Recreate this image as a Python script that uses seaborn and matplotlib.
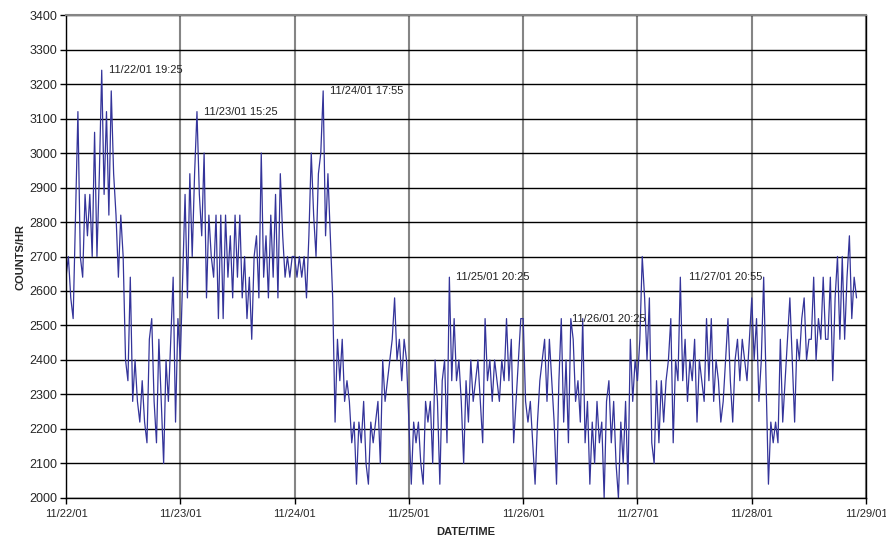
import pandas as pd
import seaborn as sns
import matplotlib.pyplot as plt
import matplotlib.dates as mdates

# counts/hr, one reading every 30 min starting 11/22/01 00:00
day1 = [2640, 2700, 2580, 2520, 2820, 3120, 2700, 2640, 2880, 2760, 2880, 2700,
        3060, 2700, 2940, 3240, 2880, 3120, 2820, 3180, 2940, 2820, 2640, 2820,
        2700, 2400, 2340, 2640, 2280, 2400, 2280, 2220, 2340, 2220, 2160, 2460,
        2520, 2280, 2160, 2460, 2280, 2100, 2400, 2280, 2460, 2640, 2220, 2520]
day2 = [2400, 2640, 2880, 2580, 2940, 2700, 2940, 3120, 2880, 2760, 3000, 2580,
        2820, 2700, 2640, 2820, 2520, 2820, 2520, 2820, 2640, 2760, 2580, 2820,
        2640, 2820, 2580, 2700, 2520, 2640, 2460, 2700, 2760, 2580, 3000, 2640,
        2760, 2580, 2820, 2640, 2880, 2580, 2940, 2760, 2640, 2700, 2640, 2700]
day3 = [2700, 2640, 2700, 2640, 2700, 2580, 2760, 3000, 2820, 2700, 2940, 3000,
        3180, 2760, 2940, 2760, 2580, 2220, 2460, 2340, 2460, 2280, 2340, 2280,
        2160, 2220, 2040, 2220, 2160, 2280, 2100, 2040, 2220, 2160, 2220, 2280,
        2100, 2400, 2280, 2340, 2400, 2460, 2580, 2400, 2460, 2340, 2460, 2400]
day4 = [2220, 2040, 2220, 2160, 2220, 2100, 2040, 2280, 2220, 2280, 2100, 2400,
        2280, 2040, 2340, 2400, 2160, 2640, 2340, 2520, 2340, 2400, 2280, 2100,
        2340, 2220, 2400, 2280, 2340, 2400, 2280, 2160, 2520, 2340, 2400, 2280,
        2400, 2340, 2280, 2400, 2340, 2520, 2340, 2460, 2160, 2280, 2400, 2520]
day5 = [2520, 2280, 2220, 2280, 2160, 2040, 2220, 2340, 2400, 2460, 2280, 2460,
        2340, 2220, 2040, 2340, 2520, 2220, 2400, 2160, 2520, 2460, 2280, 2340,
        2220, 2520, 2160, 2280, 2040, 2220, 2100, 2280, 2160, 2220, 2000, 2280,
        2340, 2160, 2280, 2100, 2000, 2220, 2100, 2280, 2040, 2460, 2280, 2400]
day6 = [2340, 2460, 2700, 2580, 2400, 2580, 2160, 2100, 2340, 2160, 2340, 2220,
        2340, 2400, 2520, 2160, 2400, 2340, 2640, 2340, 2460, 2280, 2400, 2340,
        2460, 2220, 2400, 2340, 2280, 2520, 2340, 2520, 2280, 2400, 2340, 2220,
        2280, 2400, 2520, 2340, 2220, 2400, 2460, 2340, 2460, 2400, 2340, 2460]
day7 = [2580, 2400, 2520, 2280, 2400, 2640, 2340, 2040, 2220, 2160, 2220, 2160,
        2460, 2220, 2340, 2460, 2580, 2400, 2220, 2460, 2400, 2520, 2580, 2400,
        2460, 2460, 2640, 2400, 2520, 2460, 2640, 2460, 2460, 2640, 2340, 2580,
        2700, 2460, 2700, 2460, 2640, 2760, 2520, 2640, 2580]

counts = day1 + day2 + day3 + day4 + day5 + day6 + day7
times = pd.date_range("2001-11-22 00:00", periods=len(counts), freq="30min")

# labelled peaks: label text and the time of the reading it marks
peak_labels = ["11/22/01 19:25", "11/23/01 15:25", "11/24/01 17:55",
               "11/25/01 20:25", "11/26/01 20:25", "11/27/01 20:55"]
peak_times = ["2001-11-22 07:30", "2001-11-23 03:30", "2001-11-24 06:00",
              "2001-11-25 08:30", "2001-11-26 10:00", "2001-11-28 02:30"]
# horizontal offset of each label in points (negative = label left of the peak)
label_dx = [5, 5, 5, 5, 1, -1]

df = pd.DataFrame({"time": times, "counts": counts})

sns.set_style("white")
plt.rcParams["font.family"] = ["Liberation Sans", "DejaVu Sans"]

fig = plt.figure(figsize=(8.86, 5.40), dpi=100)
ax = fig.add_axes([0.0745, 0.0778, 0.903, 0.8944])

ax.grid(axis="y", color="black", linewidth=1.0)
ax.grid(axis="x", color="#858585", linewidth=1.5)
ax.set_axisbelow(True)

sns.lineplot(data=df, x="time", y="counts", ax=ax, color="#34349a", linewidth=0.9)

series = df.set_index("time")["counts"]
for text, t, dx in zip(peak_labels, peak_times, label_dx):
    ts = pd.Timestamp(t)
    ax.annotate(text, xy=(ts, series[ts]), xytext=(dx, 0), textcoords="offset points",
                ha="left" if dx > 0 else "right", va="center",
                fontsize=8, color="#222222")

ax.set_ylim(2000, 3400)
ax.set_yticks(range(2000, 3401, 100))
ax.set_xlim(pd.Timestamp("2001-11-22"), pd.Timestamp("2001-11-29"))
ax.xaxis.set_major_locator(mdates.DayLocator())
ax.xaxis.set_major_formatter(mdates.DateFormatter("%m/%d/%y"))

ax.tick_params(axis="y", labelsize=9, length=4, width=1, color="black", left=True, pad=2)
ax.tick_params(axis="x", labelsize=8, length=4, width=1, color="black", bottom=True, pad=4)

for side in ["left", "bottom", "right"]:
    ax.spines[side].set_color("black")
    ax.spines[side].set_linewidth(1.0)
ax.spines["top"].set_color("#858585")
ax.spines["top"].set_linewidth(1.5)

ax.set_xlabel("DATE/TIME", fontsize=8, fontweight="bold", labelpad=6)
ax.set_ylabel("COUNTS/HR", fontsize=8, fontweight="bold", labelpad=3)

fig.savefig("out.png", dpi=100)
